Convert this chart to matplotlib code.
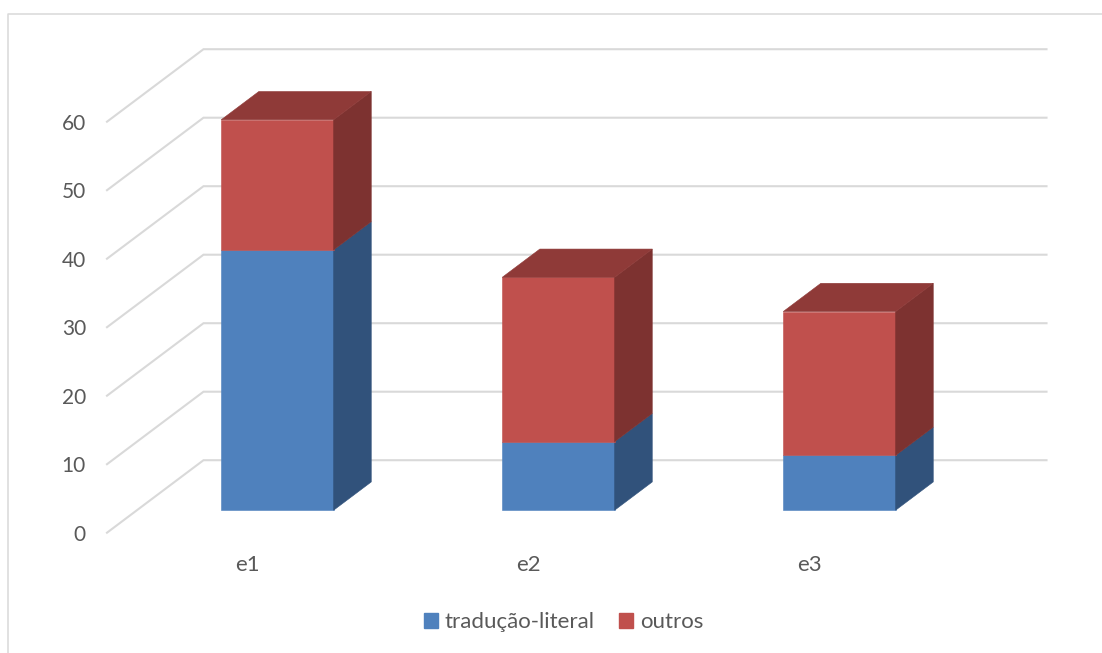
import matplotlib.pyplot as plt
from matplotlib.patches import Patch

categorias = ["e1", "e2", "e3"]
traducao_literal = [38, 10, 8]
outros = [19, 24, 21]
marcas_y = [0, 10, 20, 30, 40, 50, 60]

plt.rcParams["font.family"] = ["Lato", "DejaVu Sans"]

LARGURA, ALTURA = 1102, 653
PX_CATEGORIA = 281
PX_VALOR = 6.85
# onde o canto frontal esquerdo do chão (x=-0.5, valor 0) cai na figura
ORIGEM_X, ORIGEM_Y = 107, 532.7

# deslocamento da profundidade total, em unidades dos eixos
PROF_X = 96.5 / PX_CATEGORIA
PROF_Y = 72.5 / PX_VALOR
FRENTE, FUNDO = 0.31, 0.70
LARGURA_BARRA = 0.4

COR_TEXTO = "#595959"
COR_GRADE = "#d9d9d9"
CORES_AZUL = {"frente": "#4f81bd", "lado": "#31527b"}
CORES_VERMELHO = {"frente": "#c0504d", "lado": "#7d3230", "topo": "#8f3a38"}


def _projetar(x, valor, prof):
    return x + prof * PROF_X, valor + prof * PROF_Y


def _poligono(ax, pontos, cor, zorder=3):
    xs, ys = zip(*[_projetar(*p) for p in pontos])
    ax.fill(xs, ys, color=cor, linewidth=0.4, zorder=zorder)


def _desenhar_bloco(ax, centro, base, topo, cores):
    esq = centro - LARGURA_BARRA / 2
    dir = centro + LARGURA_BARRA / 2
    _poligono(ax, [(esq, base, FRENTE), (dir, base, FRENTE), (dir, topo, FRENTE), (esq, topo, FRENTE)], cores["frente"])
    _poligono(ax, [(dir, base, FRENTE), (dir, base, FUNDO), (dir, topo, FUNDO), (dir, topo, FRENTE)], cores["lado"])
    if "topo" in cores:
        _poligono(ax, [(esq, topo, FRENTE), (dir, topo, FRENTE), (dir, topo, FUNDO), (esq, topo, FUNDO)], cores["topo"])


fig = plt.figure(figsize=(LARGURA / 100, ALTURA / 100), dpi=100)
ax = fig.add_axes([0, 0, 1, 1])
ax.set_xlim(-0.5 - ORIGEM_X / PX_CATEGORIA, -0.5 + (LARGURA - ORIGEM_X) / PX_CATEGORIA)
ax.set_ylim((ORIGEM_Y - ALTURA) / PX_VALOR, ORIGEM_Y / PX_VALOR)
ax.axis("off")

# moldura da área do gráfico: só topo e esquerda aparecem
fig.add_artist(plt.Line2D([7.5 / LARGURA, 7.5 / LARGURA, 1], [0, 1 - 13.5 / ALTURA, 1 - 13.5 / ALTURA], color=COR_GRADE, linewidth=1.1))

for valor in marcas_y:
    xs, ys = zip(_projetar(-0.5, valor, 0), _projetar(-0.5, valor, 1), _projetar(2.5, valor, 1))
    ax.plot(xs, ys, color=COR_GRADE, linewidth=1.5, zorder=1, solid_joinstyle="miter")
    ax.text(-0.5 - 21 / PX_CATEGORIA, valor - 0.3, str(valor), ha="right", va="center", fontsize=15, color=COR_TEXTO)

for i, nome in enumerate(categorias):
    _desenhar_bloco(ax, i, 0, traducao_literal[i], CORES_AZUL)
    _desenhar_bloco(ax, i, traducao_literal[i], traducao_literal[i] + outros[i], CORES_VERMELHO)
    ax.text(i, -4.72, nome, ha="center", va="center", fontsize=16, color=COR_TEXTO)

legenda = ax.legend(
    handles=[
        Patch(color=CORES_AZUL["frente"], label="tradução-literal"),
        Patch(color=CORES_VERMELHO["frente"], label="outros"),
    ],
    loc="center",
    bbox_to_anchor=(563.5 / LARGURA, 1 - 622.5 / ALTURA),
    ncol=2,
    frameon=False,
    fontsize=16,
    labelcolor=COR_TEXTO,
    handlelength=0.63,
    handleheight=0.63,
    handletextpad=0.3,
    columnspacing=1.1,
    borderpad=0,
)

fig.savefig("out.png", dpi=100)
